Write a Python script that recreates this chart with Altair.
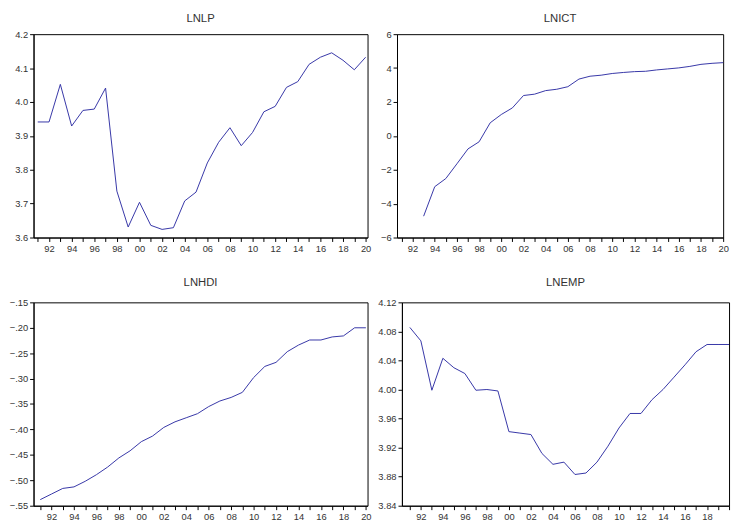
import altair as alt
import pandas as pd

# ---------------- data ----------------
years = list(range(1991, 2021))

lnlp = [3.941, 3.941, 4.052, 3.929, 3.975, 3.979, 4.041, 3.737, 3.631, 3.704,
        3.636, 3.624, 3.629, 3.708, 3.734, 3.820, 3.881, 3.924, 3.871, 3.910,
        3.971, 3.987, 4.043, 4.060, 4.111, 4.132, 4.145, 4.123, 4.095, 4.132]

years_ict = list(range(1993, 2021))
lnict = [-4.74, -3.00, -2.52, -1.65, -0.77, -0.35, 0.77, 1.26, 1.65, 2.38,
         2.46, 2.67, 2.75, 2.90, 3.35, 3.52, 3.58, 3.68, 3.74, 3.79,
         3.81, 3.89, 3.95, 4.01, 4.10, 4.22, 4.28, 4.32]

lnhdi = [-0.538, -0.527, -0.516, -0.513, -0.502, -0.489, -0.474, -0.456, -0.442, -0.424,
         -0.413, -0.396, -0.385, -0.377, -0.369, -0.355, -0.344, -0.337, -0.327, -0.298,
         -0.276, -0.268, -0.247, -0.234, -0.224, -0.224, -0.218, -0.216, -0.200, -0.200]

lnemp = [4.0855, 4.067, 3.999, 4.043, 4.030, 4.022, 3.999, 4.000, 3.998, 3.942,
         3.940, 3.938, 3.912, 3.897, 3.900, 3.883, 3.885, 3.900, 3.922, 3.947,
         3.967, 3.967, 3.986, 4.000, 4.017, 4.034, 4.052, 4.062, 4.062, 4.062]

ticks_lnlp = [3.6, 3.7, 3.8, 3.9, 4.0, 4.1, 4.2]
ticks_lnict = [-6, -4, -2, 0, 2, 4, 6]
ticks_lnhdi = [-0.55, -0.50, -0.45, -0.40, -0.35, -0.30, -0.25, -0.20, -0.15]
ticks_lnemp = [3.84, 3.88, 3.92, 3.96, 4.00, 4.04, 4.08, 4.12]

# ---------------- styling ----------------
LINE = "#3535a6"
FONT = "Liberation Sans"
TXT = "#333333"


def panel(xs, ys, title, ydom, yvals, yexpr, xdom, w, h, last_label=2020, toff=5):
    df = pd.DataFrame({"year": xs, "v": ys})
    xexpr = ("datum.value % 2 == 0 && datum.value <= " + str(last_label) +
             " ? format(datum.value % 100, '02d') : ''")
    return alt.Chart(df).mark_line(color=LINE, strokeWidth=1).encode(
        x=alt.X("year:Q",
                scale=alt.Scale(domain=xdom, nice=False, zero=False),
                axis=alt.Axis(title=None, grid=False, values=years,
                              labelExpr=xexpr, labelOverlap=False, labelFlush=False,
                              tickSize=4, labelPadding=2, domainColor="black",
                              tickColor="black", labelFont=FONT, labelFontSize=9.5,
                              labelColor=TXT)),
        y=alt.Y("v:Q",
                scale=alt.Scale(domain=ydom, nice=False, zero=False),
                axis=alt.Axis(title=None, grid=False, values=yvals,
                              labelExpr=yexpr, labelOverlap=False, labelFlush=False,
                              tickSize=4, labelPadding=2, domainColor="black",
                              tickColor="black", labelFont=FONT, labelFontSize=9.5,
                              labelColor=TXT)),
    ).properties(
        width=w, height=h,
        title=alt.TitleParams(title, font=FONT, fontSize=11.5, fontWeight="normal",
                              color=TXT, offset=toff),
    )


p1 = panel(years, lnlp, "LNLP", [3.6, 4.2], ticks_lnlp,
           "format(datum.value, '.1f')", [1990.63, 2020.17], 340, 207)
p2 = panel(years_ict, lnict, "LNICT", [-6, 6], ticks_lnict,
           "format(datum.value, '.0f')", [1990.6, 2020.0], 332, 207)
p3 = panel(years, lnhdi, "LNHDI", [-0.55, -0.15], ticks_lnhdi,
           "replace(format(datum.value, '.2f'), '0.', '.')", [1990.4, 2020.15], 340, 207,
           toff=9)
p4 = panel(years, lnemp, "LNEMP", [3.84, 4.12], ticks_lnemp,
           "format(datum.value, '.2f')", [1990.28, 2020.0], 333, 207, last_label=2018,
           toff=9)

row1 = alt.hconcat(p1, p2, spacing=30, bounds="flush")
row2 = alt.hconcat(p3, p4, spacing=35, bounds="flush")

chart = alt.vconcat(row1, row2, spacing=24).properties(
    padding=0, background="white"
).configure_view(stroke="black", strokeWidth=1)

chart.save("out.html", embed_options={"renderer": "svg", "actions": False})
